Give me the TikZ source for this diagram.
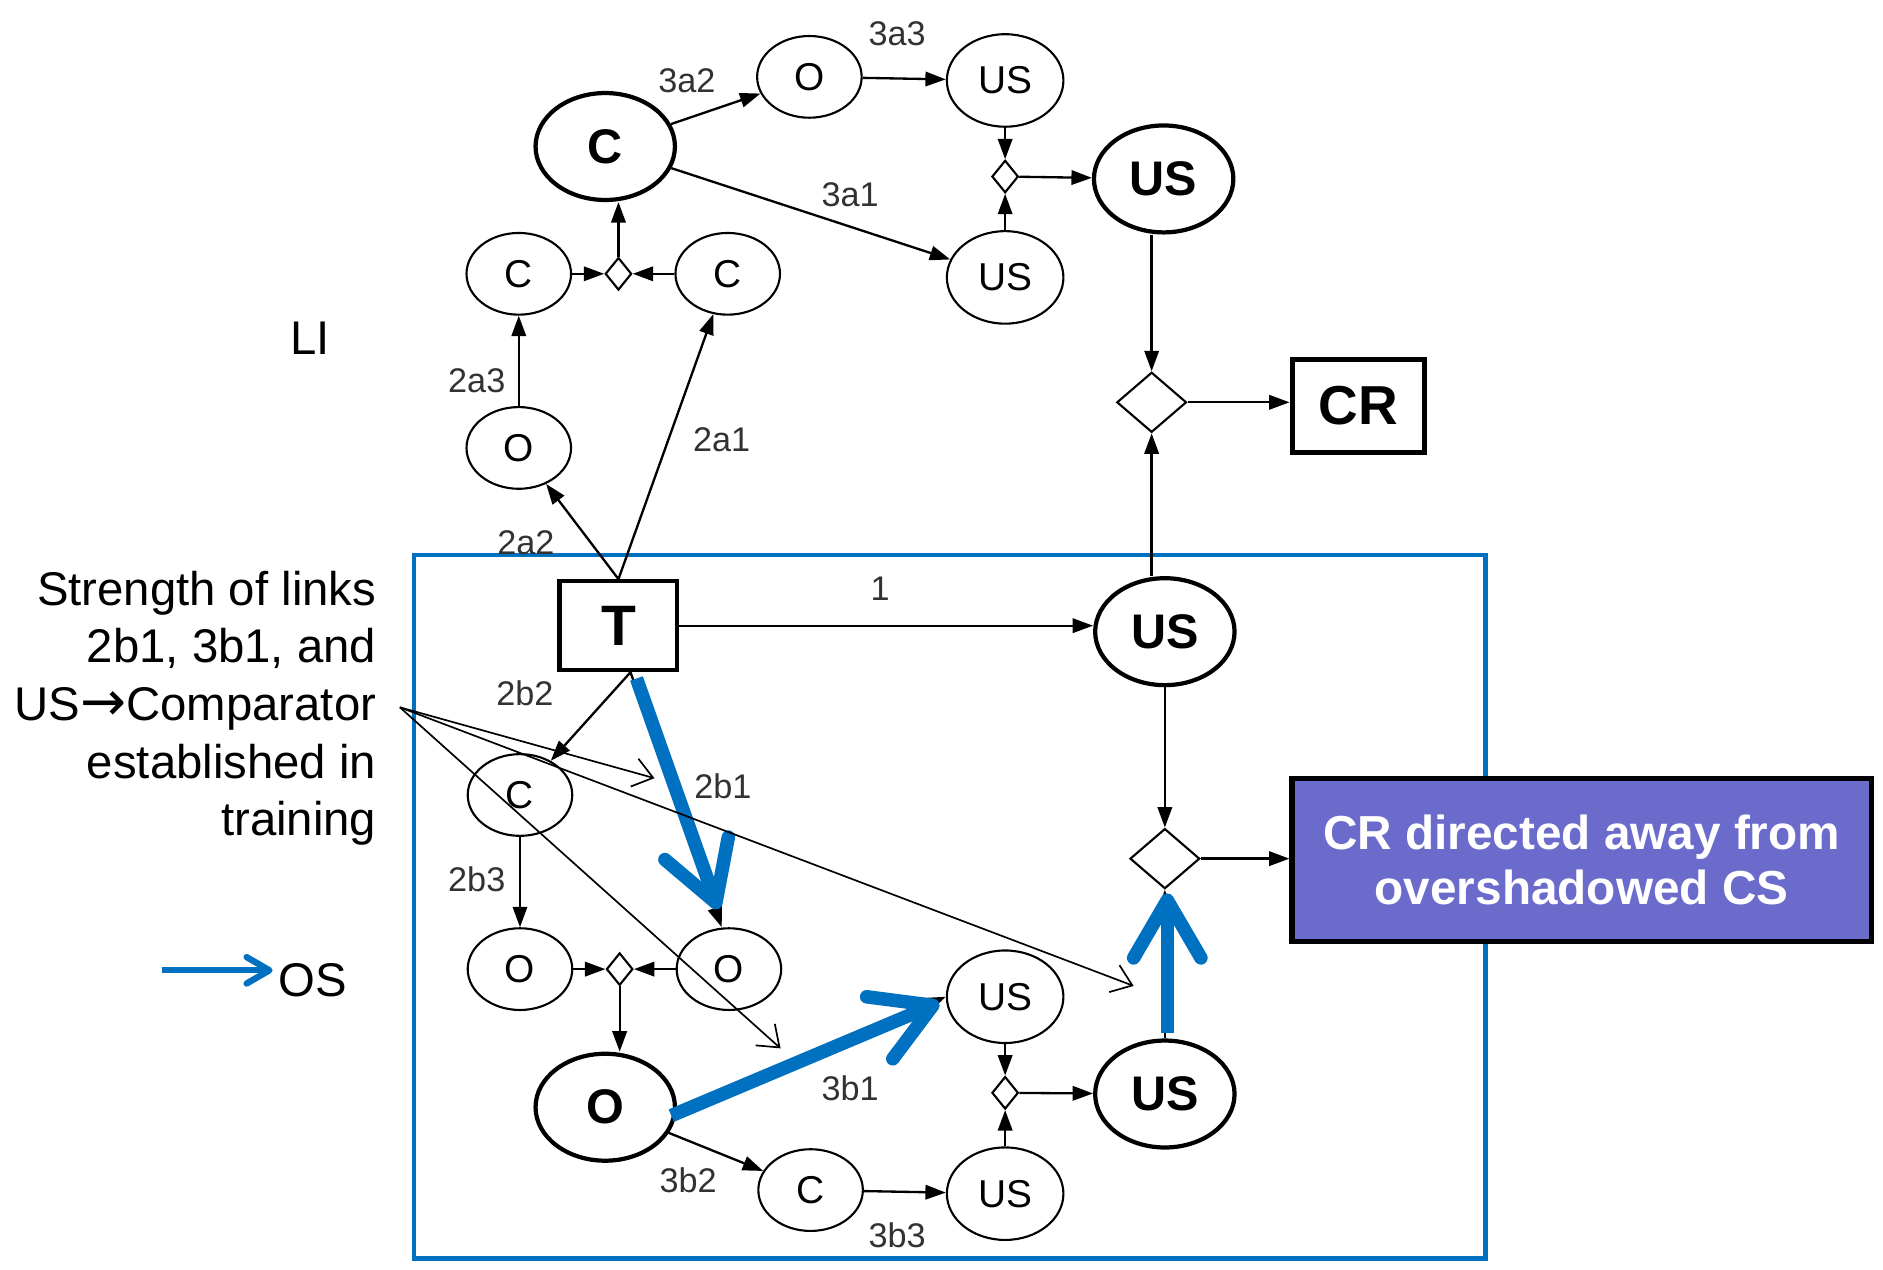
\documentclass[tikz,border=0pt]{standalone}
\usepackage{fontspec}
\setmainfont{Liberation Sans}
\newfontfamily\dejavu{DejaVu Sans}
\usetikzlibrary{shapes.geometric,arrows.meta}
\definecolor{osblue}{RGB}{0,112,192}
\definecolor{crpurple}{RGB}{107,107,204}
\definecolor{labgray}{RGB}{50,50,50}
\begin{document}
\begin{tikzpicture}[x=0.01cm,y=-0.01cm,
  tnode/.style={ellipse,draw,fill=white,line width=0.5pt,minimum width=8.7mm,minimum height=6.8mm,inner sep=0pt,font=\fontsize{9.2}{11}\selectfont},
  tusnode/.style={tnode,minimum width=9.7mm,minimum height=7.7mm},
  bnode/.style={ellipse,draw,fill=white,line width=1pt,minimum width=11.6mm,minimum height=8.9mm,inner sep=0pt,font=\fontsize{11.5}{13}\selectfont\bfseries},
  sdia/.style={diamond,draw,fill=white,line width=0.5pt,minimum width=2.2mm,minimum height=2.7mm,inner sep=0pt},
  bdia/.style={diamond,draw,fill=white,line width=0.5pt,minimum width=5.8mm,minimum height=5.0mm,inner sep=0pt},
  lab/.style={font=\fontsize{8.1}{9}\selectfont,text=labgray,inner sep=0pt},
  conn/.style={line width=0.55pt,-{Triangle[length=1.7mm,width=1.2mm]}},
  bluearr/.style={draw=osblue,line width=3.2pt,-{Straight Barb[length=4.8mm,width=5.6mm,round]}},
  legarr/.style={draw=osblue,line width=1.5pt,-{Straight Barb[length=1.9mm,width=2.2mm,round]}},
  noteline/.style={line width=0.4pt,-{Straight Barb[length=1.6mm,width=2.4mm]}},
  bigtxt/.style={font=\fontsize{11.2}{13.66}\selectfont,inner sep=0pt},
]
\useasboundingbox (0,0) rectangle (1568,1057);
% training frame
\draw[osblue,line width=1pt] (345,462) rectangle (1237,1048);

% nodes: upper part
\node[bnode] (cbig) at (504,122) {C};
\node[tnode] (otop) at (674,64) {O};
\node[tusnode] (usa3) at (837,67) {US};
\node[sdia] (sda) at (837,147) {};
\node[tusnode] (usa1) at (837,231) {US};
\node[bnode] (ustop) at (969,149) {US};
\node[tnode] (cl) at (432,228) {C};
\node[sdia] (sdc) at (515,228) {};
\node[tnode] (cr2) at (606,228) {C};
\node[tnode] (oa) at (432,373) {O};
\node[bdia] (bd1) at (959,335) {};
\node[draw,line width=1.2pt,minimum width=11mm,minimum height=7.7mm,inner sep=0pt,font=\fontsize{13}{15}\selectfont\bfseries] (crbox) at (1131,338) {CR};
\node[draw,fill=white,line width=1pt,minimum width=9.8mm,minimum height=7.4mm,inner sep=0pt,font=\fontsize{13.5}{15}\selectfont\bfseries] (T) at (515,521) {T};
\node[bnode] (usmid) at (970,526) {US};
\node[bdia] (bd2) at (970,715) {};
\node[draw,fill=crpurple,line width=1.2pt,minimum width=48.2mm,minimum height=13.6mm,text=white,font=\fontsize{11.3}{13.1}\selectfont\bfseries,align=center] (purple) at (1317,716) {CR directed away from\\overshadowed CS};
% lower part
\node[tnode] (cb) at (433,662) {C};
\node[tnode] (ob1) at (433,807) {O};
\node[sdia] (sdo) at (516,807) {};
\node[tnode] (ob2) at (607,807) {O};
\node[bnode] (obig) at (504,922) {O};
\node[tusnode] (usb1) at (837,830) {US};
\node[sdia] (sdb) at (837,910) {};
\node[bnode] (usbot) at (970,911) {US};
\node[tusnode] (usb3) at (837,994) {US};
\node[tnode] (cc) at (675,991) {C};

% link labels
\node[lab] (l3a3) at (747,28) {3a3};
\node[lab] (l3a2) at (572,67) {3a2};
\node[lab] (l3a1) at (708,162) {3a1};
\node[lab] (l2a3) at (397,317) {2a3};
\node[lab] (l2a1) at (601,366) {2a1};
\node[lab] (l2a2) at (438,452) {2a2};
\node[lab] (l1) at (733,490) {1};
\node[lab] (l2b2) at (437,577) {2b2};
\node[lab] (l2b1) at (602,655) {2b1};
\node[lab] (l2b3) at (397,732) {2b3};
\node[lab] (l3b1) at (708,906) {3b1};
\node[lab] (l3b2) at (573,983) {3b2};
\node[lab] (l3b3) at (747,1029) {3b3};

% connectors
\draw[conn] (cbig) -- (otop);
\draw[conn] (cbig) -- (usa1);
\draw[conn] (otop) -- (usa3);
\draw[conn] (usa3) -- (sda);
\draw[conn] (usa1) -- (sda);
\draw[conn] (sda) -- (ustop);
\draw[conn] (bd1.north |- ustop.south) -- (bd1);
\draw[conn] (bd1) -- (bd1 -| crbox.west);
\draw[conn] (bd1.south |- usmid.north) -- (bd1);
\draw[conn] (cl) -- (sdc);
\draw[conn] (cr2) -- (sdc);
\draw[conn] (sdc) -- (sdc |- cbig.south);
\draw[conn] (oa) -- (cl);
\draw[conn] (T.north) -- (oa);
\draw[conn] (T.north) -- (cr2);
\draw[conn] (T) -- (T -| usmid.west);
\coordinate (tb) at ([xshift=1mm]T.south);
\draw[conn] (tb) -- (cb);
\draw[conn] (tb) -- ([xshift=-0.6mm]ob2.north);
\draw[conn] (cb) -- (ob1);
\draw[conn] (ob1) -- (sdo);
\draw[conn] (ob2) -- (sdo);
\draw[conn] (sdo) -- (sdo |- obig.north);
\draw[conn] ([yshift=-0.5mm]obig.east) -- (usb1.west);
\draw[conn] (obig) -- (cc);
\draw[conn] (cc) -- (usb3);
\draw[conn] (usb1) -- (sdb);
\draw[conn] (usb3) -- (sdb);
\draw[conn] (sdb) -- (usbot);
\draw[conn] (usmid) -- (bd2);
\draw[conn] (usbot) -- (bd2);
\draw[conn] (bd2) -- (bd2 -| purple.west);

% OS (blue) arrows
\coordinate (b1s) at (530,565);
\coordinate (b1e) at (598,757);
\coordinate (b2s) at (559,929);
\coordinate (b2e) at (782,835);
\coordinate (b3s) at (972,860);
\coordinate (b3e) at (972,744);
\draw[bluearr] (b1s) -- (b1e);
\draw[bluearr] (b2s) -- (b2e);
\draw[bluearr] (b3s) -- (b3e);

% left annotations
\node[bigtxt] (li) at (258,282) {LI};
\node[bigtxt,anchor=base east] (t1) at (314,504) {Strength of links};
\node[bigtxt,anchor=base east] (t2) at (314,552) {2b1, 3b1, and};
\node[bigtxt,anchor=base east] (t3) at (314,600) {US{\dejavu\fontsize{13}{13}\selectfont →}Comparator};
\node[bigtxt,anchor=base east] (t4) at (314,648) {established in};
\node[bigtxt,anchor=base east] (t5) at (314,696) {training};

\coordinate (ns) at (333,589);
\coordinate (n1) at (545,648);
\coordinate (n2) at (650,873);
\coordinate (n3) at (944,821);
\draw[noteline] (ns) -- (n1);
\draw[noteline] (ns) -- (n2);
\draw[noteline] (ns) -- (n3);

% legend
\node[bigtxt,anchor=west] (os) at (231,816) {OS};
\coordinate (ls) at (135,808);
\coordinate (le) at (227,808);
\draw[legarr] (ls) -- (le);
\end{tikzpicture}
\end{document}
